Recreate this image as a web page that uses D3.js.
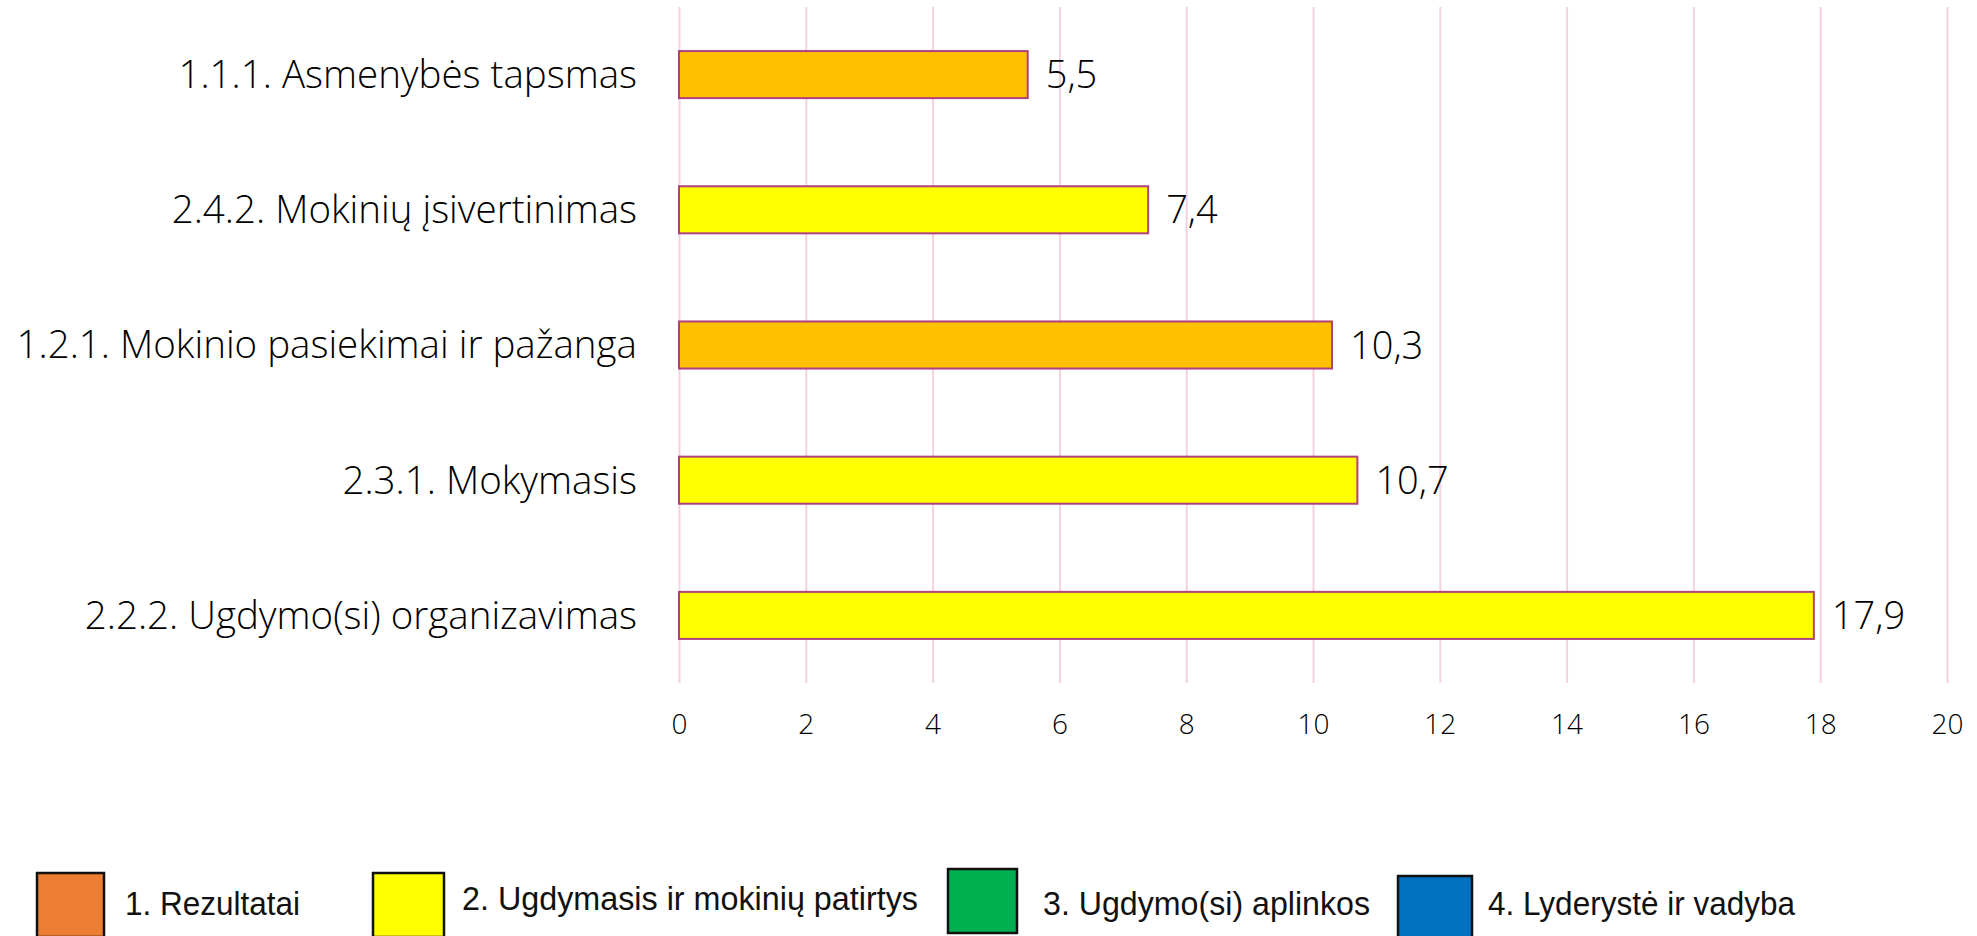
<!DOCTYPE html>
<html>
<head>
<meta charset="utf-8">
<script src="https://cdn.jsdelivr.net/npm/d3@7"></script>
<style>
  body { margin: 0; background: #fff; }
  svg { display: block; }
</style>
</head>
<body>
<svg id="chart"></svg>
<script>
// data
var categories = ["1.1.1. Asmenybės tapsmas", "2.4.2. Mokinių įsivertinimas", "1.2.1. Mokinio pasiekimai ir pažanga", "2.3.1. Mokymasis", "2.2.2. Ugdymo(si) organizavimas"]
var values = [5.5, 7.4, 10.3, 10.7, 17.9]
var areas = [1, 2, 1, 2, 2]
var xTicks = [0, 2, 4, 6, 8, 10, 12, 14, 16, 18, 20]

var legendLabels = ["1. Rezultatai", "2. Ugdymasis ir mokinių patirtys", "3. Ugdymo(si) aplinkos", "4. Lyderystė ir vadyba"]
var legendColors = ["#ED7D31", "#FFFF00", "#00B050", "#0070C0"]
var barColors = {1: "#FFC000", 2: "#FFFF00"}

var dimensions = {
  width: 1977,
  height: 936,
  margin: { top: 7, bottom: 253, left: 679, right: 30 }
}

var svg = d3.select("#chart")
  .attr("width", dimensions.width)
  .attr("height", dimensions.height)

var data = categories.map((c, i) => ({ name: c, value: values[i], area: areas[i] }))

var xScale = d3.scaleLinear()
  .domain([0, 20])
  .range([dimensions.margin.left, dimensions.width - dimensions.margin.right])

var yScale = d3.scaleBand()
  .domain(categories)
  .range([dimensions.margin.top, dimensions.height - dimensions.margin.bottom])
  .paddingInner(0.652)
  .paddingOuter(0.326)

var plotBottom = dimensions.height - dimensions.margin.bottom
var plotH = plotBottom - dimensions.margin.top

var labelFont = "'Open Sans', 'DejaVu Sans', sans-serif"

//gridlines
var grid = svg.append("g")
  .attr("transform", `translate(0,${plotBottom})`)
  .call(d3.axisBottom(xScale).tickValues(xTicks).tickSize(-plotH).tickFormat(""))
grid.select(".domain").remove()
grid.selectAll("line").attr("stroke", "#f3d2e1").attr("stroke-width", 2)

//x tick labels
var xAxis = svg.append("g")
  .attr("transform", `translate(0,${plotBottom})`)
  .call(d3.axisBottom(xScale).tickValues(xTicks).tickSize(0).tickPadding(31))
xAxis.select(".domain").remove()
xAxis.selectAll("text")
  .attr("font-family", labelFont)
  .attr("font-weight", 300)
  .attr("font-size", 28)
  .attr("fill", "#000")

//bars
svg.append("g")
  .selectAll("rect")
  .data(data)
  .enter()
  .append("rect")
    .attr("x", xScale(0))
    .attr("y", d => yScale(d.name))
    .attr("width", d => xScale(d.value) - xScale(0))
    .attr("height", yScale.bandwidth())
    .attr("fill", d => barColors[d.area])
    .attr("stroke", "#b0407e")
    .attr("stroke-width", 2)

//value labels
svg.append("g")
  .selectAll("text")
  .data(data)
  .enter()
  .append("text")
    .attr("x", d => xScale(d.value) + 18)
    .attr("y", d => yScale(d.name) + yScale.bandwidth() / 2)
    .attr("dy", "0.36em")
    .attr("font-family", labelFont)
    .attr("font-weight", 300)
    .attr("font-size", 38)
    .attr("fill", "#000")
    .text(d => d3.format(".1f")(d.value).replace(".", ","))

//category labels
var yAxis = svg.append("g")
  .attr("transform", `translate(${dimensions.margin.left},0)`)
  .call(d3.axisLeft(yScale).tickSize(0).tickPadding(42))
yAxis.select(".domain").remove()
yAxis.selectAll("text")
  .attr("dy", "0.35em")
  .attr("font-family", labelFont)
  .attr("font-weight", 300)
  .attr("font-size", 38.5)
  .attr("fill", "#000")

//legend (pasted image style, items slightly uneven)
var legendBoxes = [
  { x: 37, y: 873, w: 67 },
  { x: 373, y: 873, w: 71 },
  { x: 948, y: 869, w: 69 },
  { x: 1398, y: 876, w: 74 }
]
var legendTexts = [
  { x: 125, y: 915, len: 175 },
  { x: 462, y: 910, len: 456 },
  { x: 1043, y: 915, len: 327 },
  { x: 1488, y: 915, len: 307 }
]

var legend = svg.append("g")
legendLabels.forEach((label, i) => {
  var b = legendBoxes[i]
  legend.append("rect")
    .attr("x", b.x)
    .attr("y", b.y)
    .attr("width", b.w)
    .attr("height", 64)
    .attr("fill", legendColors[i])
    .attr("stroke", "#111")
    .attr("stroke-width", 2.5)
  var t = legendTexts[i]
  legend.append("text")
    .attr("x", t.x)
    .attr("y", t.y)
    .attr("font-family", "'Liberation Sans', Arial, sans-serif")
    .attr("font-size", 33)
    .attr("textLength", t.len)
    .attr("lengthAdjust", "spacingAndGlyphs")
    .attr("fill", "#111")
    .text(label)
})
</script>
</body>
</html>
